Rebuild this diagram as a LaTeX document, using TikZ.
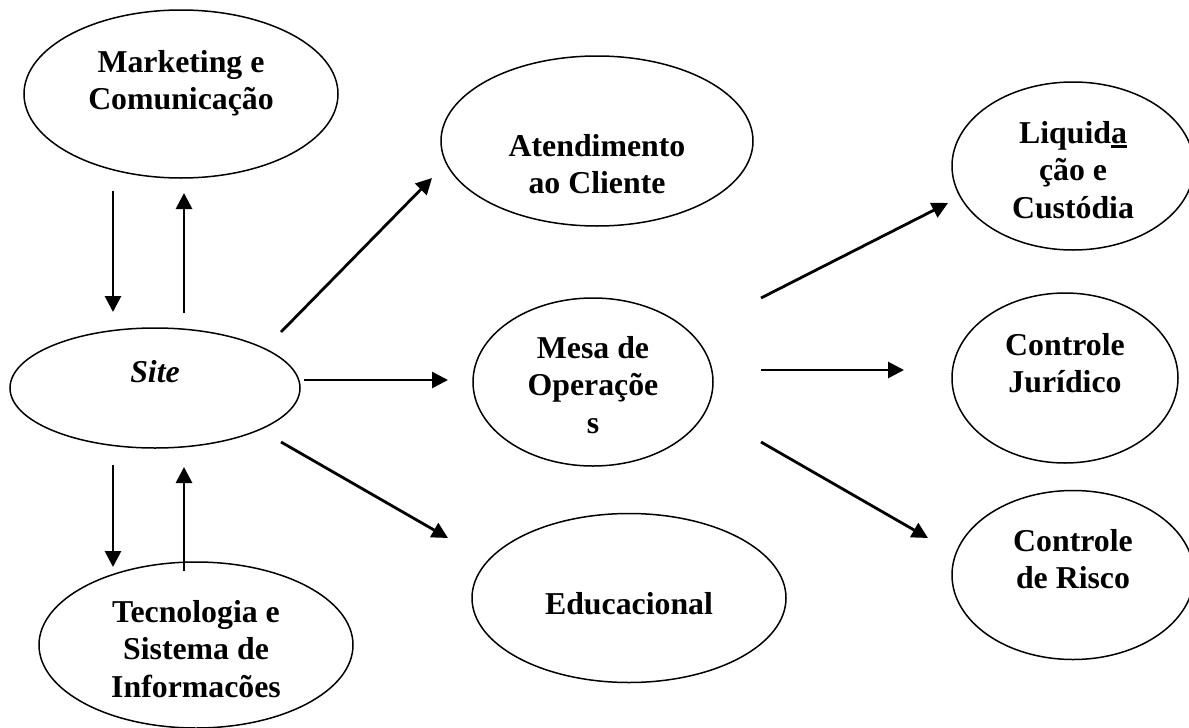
\documentclass[tikz,border=0pt]{standalone}
\usepackage{fontspec}
\setmainfont{Liberation Serif}
\usetikzlibrary{arrows.meta,shapes.geometric}
\newcommand\ulbar[1]{\setbox0\hbox{#1}\rlap{\rule[-5pt]{\wd0}{3pt}}#1}

\begin{document}
\begin{tikzpicture}[x=1pt,y=-1pt,-{Triangle[length=16pt,width=16pt]},line width=2.8pt]
    \tikzstyle{bubble}=[draw=black, ellipse, line width=1.5pt, inner sep=0pt, -]
    \tikzstyle{txt}=[font=\fontsize{31.8}{37.5}\selectfont\bfseries, align=center, text=black]
    \useasboundingbox (0,0) rectangle (1189,728);

    \node[bubble, minimum width=314pt, minimum height=168pt,
      label={[txt,yshift=11pt]center:{Marketing e\\Comunicação}}] (mkt) at (181,94) {};
    \node[bubble, minimum width=290pt, minimum height=120pt,
      label={[txt,yshift=16pt]center:{\itshape Site}}] (site) at (155,388) {};
    \node[bubble, minimum width=314pt, minimum height=166pt,
      label={[txt,yshift=-4pt]center:{Tecnologia e\\Sistema de\\Informacões}}] (tec) at (196,645) {};
    \node[bubble, minimum width=312pt, minimum height=170pt,
      label={[txt,yshift=-23pt]center:{Atendimento\\ao Cliente}}] (atd) at (597,141) {};
    \node[bubble, minimum width=240pt, minimum height=168pt,
      label={[txt,yshift=-3pt]center:{Mesa de\\Operaçõe\\s}}] (mesa) at (593,382) {};
    \node[bubble, minimum width=314pt, minimum height=169pt,
      label={[txt,yshift=-6pt]center:{Educacional}}] (educ) at (629,598) {};
    \node[bubble, minimum width=242pt, minimum height=168pt,
      label={[txt,yshift=-4pt]center:{Liquid\ulbar{a}\\ção e\\Custódia}}] (liq) at (1073,166) {};
    \node[bubble, minimum width=226pt, minimum height=170pt,
      label={[txt,yshift=15pt]center:{Controle\\Jurídico}}] (jur) at (1065,378) {};
    \node[bubble, minimum width=242pt, minimum height=169pt,
      label={[txt,yshift=16pt]center:{Controle\\de Risco}}] (risco) at (1073,575) {};

    % free ends of the connectors
    \coordinate (mktOut)  at (113,191);
    \coordinate (siteIn)  at (113,312);
    \coordinate (siteUp)  at (184,313);
    \coordinate (mktIn)   at (184,193);
    \coordinate (siteDn)  at (113,465);
    \coordinate (tecIn)   at (113,567);
    \coordinate (tecOut)  at (184,571);
    \coordinate (siteBk)  at (184,467);
    \coordinate (siteA)   at (281,332);
    \coordinate (atdIn)   at (432,178);
    \coordinate (siteM)   at (304,380);
    \coordinate (mesaIn)  at (448,380);
    \coordinate (siteE)   at (281,442);
    \coordinate (educIn)  at (448,538);
    \coordinate (mesaL)   at (761,298);
    \coordinate (liqIn)   at (948,203);
    \coordinate (mesaJ)   at (761,370);
    \coordinate (jurIn)   at (904,370);
    \coordinate (mesaR)   at (761,442);
    \coordinate (riscoIn) at (928,538);

    \path
     (mktOut) edge (siteIn)
     (siteUp) edge (mktIn)
     (siteDn) edge (tecIn)
     (tecOut) edge (siteBk)
     (siteA)  edge (atdIn)
     (siteM)  edge (mesaIn)
     (siteE)  edge (educIn)
     (mesaL)  edge (liqIn)
     (mesaJ)  edge (jurIn)
     (mesaR)  edge (riscoIn)
     ;
\end{tikzpicture}
\end{document}
